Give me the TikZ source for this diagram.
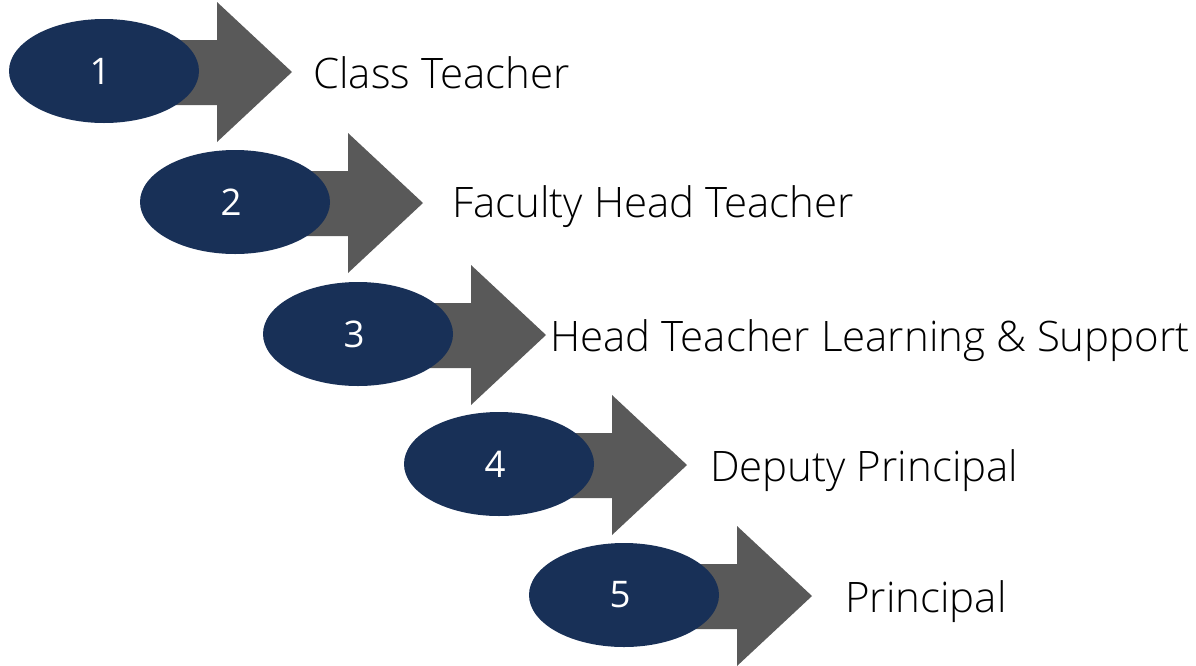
\documentclass[tikz,border=0pt]{standalone}
\usepackage{fontspec}
\IfFontExistsTF{Open Sans Light}{\setmainfont{Open Sans Light}}{\setmainfont{Open Sans}}
\newfontfamily\numfont{Open Sans}
\usetikzlibrary{shapes.geometric}
\definecolor{navy}{RGB}{24,48,87}
\definecolor{arrowgray}{RGB}{89,89,89}
\tikzset{
  stepoval/.style={ellipse, fill=navy, draw=none, minimum width=142.5pt, minimum height=78pt, inner sep=0pt, text=white, font=\numfont\fontsize{27.5}{30}\selectfont},
  steparrow/.style={fill=arrowgray, draw=none},
  steplabel/.style={anchor=base west, inner sep=0pt, text=black, font=\fontsize{31.5}{34}\selectfont}
}
\begin{document}
\begin{tikzpicture}[x=0.75pt, y=-0.75pt]
\useasboundingbox (0,0) rectangle (1196,665);
\foreach \i/\cx/\cy in {1/104/71, 2/235/202, 3/358/334, 4/499/464, 5/624/595}{
  \fill[steparrow] (\cx,\cy-31) -- (\cx+113,\cy-31) -- (\cx+113,\cy-69) -- (\cx+188,\cy+1)
     -- (\cx+113,\cy+71) -- (\cx+113,\cy+34) -- (\cx,\cy+34) -- cycle;
  \node[stepoval] (e\i) at (\cx,\cy) {\hspace*{-6pt}\i};
}
\node[steplabel] (t1) at (313,88) {Class Teacher};
\node[steplabel] (t2) at (452,217) {Faculty Head Teacher};
\node[steplabel] (t3) at (550,351) {Head Teacher Learning \& Support};
\node[steplabel] (t4) at (710,481) {Deputy Principal};
\node[steplabel] (t5) at (845,612) {Principal};
\end{tikzpicture}
\end{document}
